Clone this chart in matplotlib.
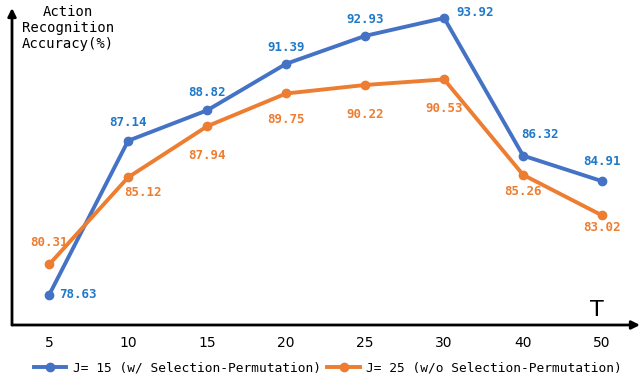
import numpy as np
import matplotlib.pyplot as plt

# data
t_labels = ['5', '10', '15', '20', '25', '30', '40', '50']
acc_with = [78.63, 87.14, 88.82, 91.39, 92.93, 93.92, 86.32, 84.91]
acc_without = [80.31, 85.12, 87.94, 89.75, 90.22, 90.53, 85.26, 83.02]

# label offsets in points (dx, dy)
off_with = [(7, 0), (0, 13), (0, 13), (0, 12), (0, 12), (9, 4), (12, 15), (0, 14)]
off_without = [(0, 16), (11, -11), (0, -21), (0, -19), (0, -21), (0, -21), (0, -12), (0, -9)]

blue = '#4472C4'
orange = '#ED7D31'
blue_txt = '#1F78C8'

fig = plt.figure(figsize=(6.42, 3.79), dpi=100)
ax = fig.add_axes([12 / 642, 1 - 325 / 379, 628 / 642, 317 / 379])

x = np.arange(len(t_labels))
ax.plot(x, acc_with, color=blue, lw=2.8, marker='o', ms=6,
        label='J= 15 (w/ Selection-Permutation)', zorder=3)
ax.plot(x, acc_without, color=orange, lw=2.8, marker='o', ms=6,
        label='J= 25 (w/o Selection-Permutation)', zorder=3)

mono = 'DejaVu Sans Mono'
for i, v in enumerate(acc_with):
    dx, dy = off_with[i]
    ha = 'left' if i in (0, 5) else 'center'
    ax.annotate(f'{v:.2f}', (x[i], v), xytext=(dx, dy), textcoords='offset points',
                ha=ha, va='center', color=blue_txt, fontsize=9, fontweight='bold',
                family=mono)
for i, v in enumerate(acc_without):
    dx, dy = off_without[i]
    ax.annotate(f'{v:.2f}', (x[i], v), xytext=(dx, dy), textcoords='offset points',
                ha='center', va='center', color=orange, fontsize=9, fontweight='bold',
                family=mono)

ax.set_xlim(-0.47, 7.48)
ax.set_ylim(76.97, 94.47)
ax.set_xticks(x)
ax.set_xticklabels(t_labels, fontsize=10)
ax.set_yticks([])
ax.tick_params(axis='x', length=0, pad=8)

for s in ['top', 'right', 'left', 'bottom']:
    ax.spines[s].set_visible(False)

# axes with arrowheads
ax.annotate('', xy=(1.0, 0), xytext=(0, 0), xycoords='axes fraction',
            arrowprops=dict(arrowstyle='-|>', lw=2, color='black', mutation_scale=12,
                            shrinkA=0, shrinkB=0))
ax.annotate('', xy=(0, 1.0), xytext=(0, 0), xycoords='axes fraction',
            arrowprops=dict(arrowstyle='-|>', lw=2, color='black', mutation_scale=12,
                            shrinkA=0, shrinkB=0))

fig.text(68 / 642, 1 - 28 / 379, 'Action\nRecognition\nAccuracy(%)', ha='center',
         va='center', family=mono, fontsize=10, linespacing=1.15)
fig.text(597 / 642, 1 - 310 / 379, 'T', ha='center', va='center', fontsize=16)

fig.legend(loc='center', bbox_to_anchor=(328 / 642, 1 - 368 / 379), ncol=2,
           frameon=False, prop={'family': mono, 'size': 9.3}, handlelength=2.5,
           columnspacing=0.5, handletextpad=0.5)

fig.savefig('out.png', dpi=100)
